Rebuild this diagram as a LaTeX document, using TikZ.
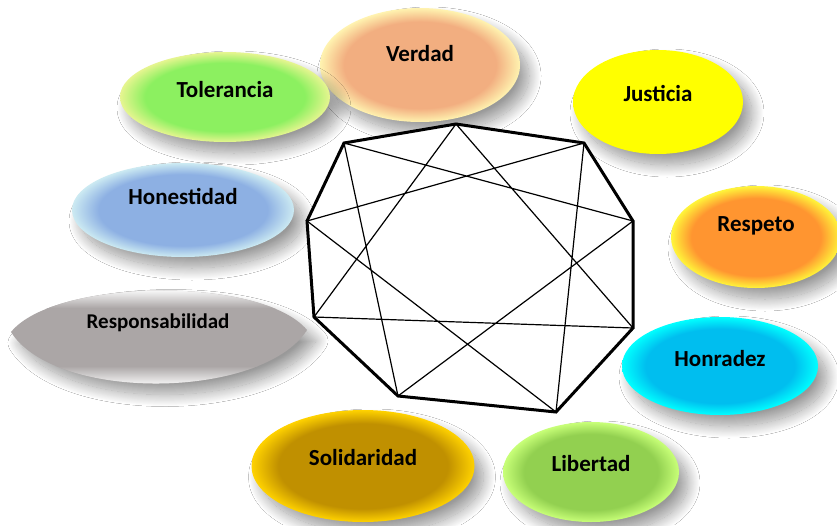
\documentclass[tikz,border=0pt]{standalone}
\usepackage{fontspec}
\setmainfont{Carlito}
\usetikzlibrary{shapes.geometric,shadows.blur}

\definecolor{verdadin}{HTML}{F2AE80}
\definecolor{verdadout}{HTML}{FFF3B0}
\definecolor{toleranciain}{HTML}{8CF060}
\definecolor{toleranciaout}{HTML}{E6F590}
\definecolor{justiciain}{HTML}{FFFF00}
\definecolor{justiciaout}{HTML}{FFFF00}
\definecolor{honestidadin}{HTML}{8DB0E3}
\definecolor{honestidadout}{HTML}{CCEAF2}
\definecolor{respetoin}{HTML}{FF9530}
\definecolor{respetoout}{HTML}{FFF53A}
\definecolor{honradezin}{HTML}{00BEEF}
\definecolor{honradezout}{HTML}{00FFFF}
\definecolor{solidaridadin}{HTML}{C09000}
\definecolor{solidaridadout}{HTML}{FFD200}
\definecolor{libertadin}{HTML}{92D050}
\definecolor{libertadout}{HTML}{C8FF78}
\definecolor{responsabilidadin}{HTML}{ABA6A6}
\definecolor{responsabilidadout}{HTML}{F4F4F4}
\colorlet{glossin}{white}
\colorlet{glossout}{white}

\pgfdeclareradialshading[glossin,glossout]{gloss}{\pgfpoint{0bp}{0bp}}{color(0bp)=(glossin); color(19bp)=(glossin); color(25bp)=(glossout); color(50bp)=(glossout)}

\tikzset{
  sombra/.style={blur shadow={shadow xshift=9pt,shadow yshift=-11pt,shadow blur radius=12pt,shadow blur steps=24,shadow opacity=40}},
  valor/.style={ellipse, sombra, shading=gloss, inner sep=0pt},
  etiqueta/.style={font=\bfseries\fontsize{23}{26}\selectfont, inner sep=0pt}
}

\begin{document}
\begin{tikzpicture}[x=1pt, y=-1pt]
\useasboundingbox[fill=white] (0,0) rectangle (837,525);

\foreach \nom/\x/\y/\w/\h/\ty/\txt in {verdad/420/65/200/114/54/Verdad, tolerancia/225/97/210/90/90/Tolerancia, justicia/658/102/170/104/93/Justicia, honestidad/183/210/222/94/196/Honestidad, respeto/756/237/170/102/226/Respeto, honradez/720/366/196/98/359/Honradez, solidaridad/363/466/223/112/458/Solidaridad, libertad/591/472/176/100/464/Libertad} {
  \colorlet{glossin}{\nom in}
  \colorlet{glossout}{\nom out}
  \node[valor, minimum width=\w pt, minimum height=\h pt] (\nom) at (\x,\y) {};
  \node[etiqueta] (\nom-txt) at (\x,\ty) {\txt};
}

\path[sombra, fill=responsabilidadin] (11,332) .. controls (55,278) and (262,276) .. (307,330) .. controls (262,400) and (55,402) .. cycle;
\begin{scope}
  \clip (11,332) .. controls (55,278) and (262,276) .. (307,330) .. controls (262,400) and (55,402) .. cycle;
  \fill[responsabilidadout] (0,280) rectangle (320,291);
  \shade[top color=responsabilidadout, bottom color=responsabilidadin] (0,308) rectangle (320,291);
  \shade[top color=responsabilidadin, bottom color=responsabilidadout] (0,384) rectangle (320,366);
  \fill[responsabilidadout] (0,384) rectangle (320,395);
\end{scope}
\node[etiqueta, font=\bfseries\fontsize{21}{24}\selectfont] (responsabilidad) at (158,323) {Responsabilidad};

\coordinate (a) at (456,124);
\coordinate (b) at (584,143);
\coordinate (c) at (633,221);
\coordinate (d) at (633,328);
\coordinate (e) at (556,412);
\coordinate (f) at (398,396);
\coordinate (g) at (314,317);
\coordinate (h) at (307,221);
\coordinate (i) at (344,143);

\draw[line width=3pt, fill=white] (a) -- (b) -- (c) -- (d) -- (e) -- (f) -- (g) -- (h) -- (i) -- cycle;
\draw[line width=1.2pt] (a) -- (d) -- (g) -- cycle (b) -- (e) -- (h) -- cycle (c) -- (f) -- (i) -- cycle;
\end{tikzpicture}
\end{document}
